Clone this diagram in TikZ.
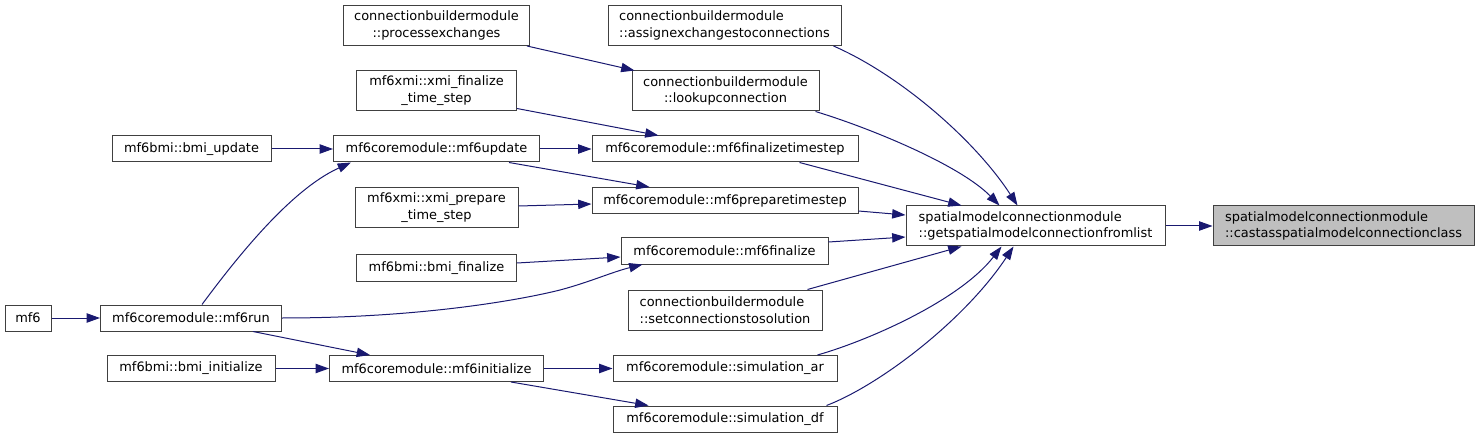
\documentclass[tikz,border=0pt]{standalone}
\usepackage{fontspec}
\setmainfont{DejaVu Sans}
\usetikzlibrary{arrows.meta,calc}
\definecolor{edgec}{HTML}{191970}
\definecolor{boxc}{HTML}{404040}
\definecolor{fillc}{HTML}{BFBFBF}
\begin{document}
\begin{tikzpicture}[x=0.75pt,y=-0.75pt,
  fn/.style={draw=boxc, line width=0.75pt, fill=white, inner sep=0pt, minimum height=19.5pt, font=\fontsize{9.7pt}{12.6pt}\selectfont, text=black},
  two/.style={minimum height=30pt},
  w/.style={minimum width=#1*0.75pt},
  edge/.style={draw=edgec, line width=0.75pt, -{Triangle[length=10pt,width=7pt]}}]
\useasboundingbox (0,0) rectangle (1480,438);

\node[fn,w=46] (mf6) at (28,318) {mf6};
\node[fn,w=181] (run) at (191,318) {mf6coremodule::mf6run};
\node[fn,w=159] (bupd) at (191.5,149) {mf6bmi::bmi\_update};
\node[fn,w=168] (binit) at (191,368.5) {mf6bmi::bmi\_initialize};
\node[fn,w=206] (upd) at (436.5,149) {mf6coremodule::mf6update};
\node[fn,w=214] (init) at (436.5,368.5) {mf6coremodule::mf6initialize};
\node[fn,two,w=160,align=center] (xfin) at (436.5,91) {mf6xmi::xmi\_finalize\\\_time\_step};
\node[fn,two,w=163,align=center] (xprep) at (436.5,208) {mf6xmi::xmi\_prepare\\\_time\_step};
\node[fn,w=160] (bfin) at (436.5,268) {mf6bmi::bmi\_finalize};
\node[fn,two,w=186,align=center] (pex) at (436.5,25.5) {connectionbuildermodule\\::processexchanges};
\node[fn,two,w=233,align=left] (assign) at (724.5,25.5) {connectionbuildermodule\\::assignexchangestoconnections};
\node[fn,two,w=187,align=center] (look) at (725.5,91) {connectionbuildermodule\\::lookupconnection};
\node[fn,w=266] (fts) at (725,149) {mf6coremodule::mf6finalizetimestep};
\node[fn,w=266] (pts) at (725,200.5) {mf6coremodule::mf6preparetimestep};
\node[fn,w=207] (fin) at (724.5,251) {mf6coremodule::mf6finalize};
\node[fn,two,w=194,align=left] (setc) at (725,310) {connectionbuildermodule\\::setconnectionstosolution};
\node[fn,w=224] (sar) at (725,368.5) {mf6coremodule::simulation\_ar};
\node[fn,w=224] (sdf) at (725,419) {mf6coremodule::simulation\_df};
\node[fn,two,w=259,align=left] (get) at (1035.5,226) {spatialmodelconnectionmodule\\::getspatialmodelconnectionfromlist};
\node[fn,two,w=261,align=left,fill=fillc] (cast) at (1343.5,226) {spatialmodelconnectionmodule\\::castasspatialmodelconnectionclass};

\draw[edge] (mf6) -- (run);
\draw[edge] (bupd) -- (upd);
\draw[edge] (binit) -- (init);
\draw[edge] (upd) -- (fts);
\draw[edge] (init) -- (sar);
\draw[edge] (get) -- (cast);
\draw[edge] ($(run.north)+(11,0)$) .. controls (235,260) and (290,190) .. ($(upd.south west)+(18,0)$);
\draw[edge] ($(run.south)+(62,0)$) -- ($(init.north west)+(41,0)$);
\draw[edge] (run.east) .. controls (420,318) and (520,300) .. (560,290) .. controls (590,282) and (612,272) .. ($(fin.south west)+(22,0)$);
\draw[edge] ($(bfin.east)+(0,-5)$) -- ($(fin.west)+(0,6)$);
\draw[edge] ($(xprep.east)+(0,-2)$) -- ($(pts.west)+(0,3.5)$);
\draw[edge] ($(upd.south east)+(-31,0)$) -- ($(pts.north west)+(58,0)$);
\draw[edge] ($(xfin.south east)+(0,-3)$) -- ($(fts.north west)+(67,0)$);
\draw[edge] ($(pex.south east)+(-3,0)$) -- ($(look.north west)+(3,0)$);
\draw[edge] ($(assign.south east)+(-8,0)$) .. controls (900,75) and (975,140) .. ($(get.north west)+(112,0)$);
\draw[edge] ($(look.south east)+(-4,0)$) .. controls (870,128) and (960,165) .. ($(get.north west)+(94,0)$);
\draw[edge] ($(fts.south west)+(208,0)$) -- ($(get.north west)+(56,0)$);
\draw[edge] ($(pts.east)+(0,10.5)$) -- ($(get.west)+(0,-11)$);
\draw[edge] ($(fin.east)+(0,-9)$) -- ($(get.west)+(0,11)$);
\draw[edge] ($(setc.north west)+(180,0)$) -- ($(get.south west)+(56,0)$);
\draw[edge] ($(sar.north west)+(205,0)$) .. controls (870,340) and (960,300) .. ($(get.south west)+(96,0)$);
\draw[edge] ($(sdf.north west)+(214,0)$) .. controls (880,385) and (965,320) .. ($(get.south west)+(108,0)$);
\draw[edge] ($(init.south east)+(-33,0)$) -- ($(sdf.north west)+(36,0)$);
\end{tikzpicture}
\end{document}
